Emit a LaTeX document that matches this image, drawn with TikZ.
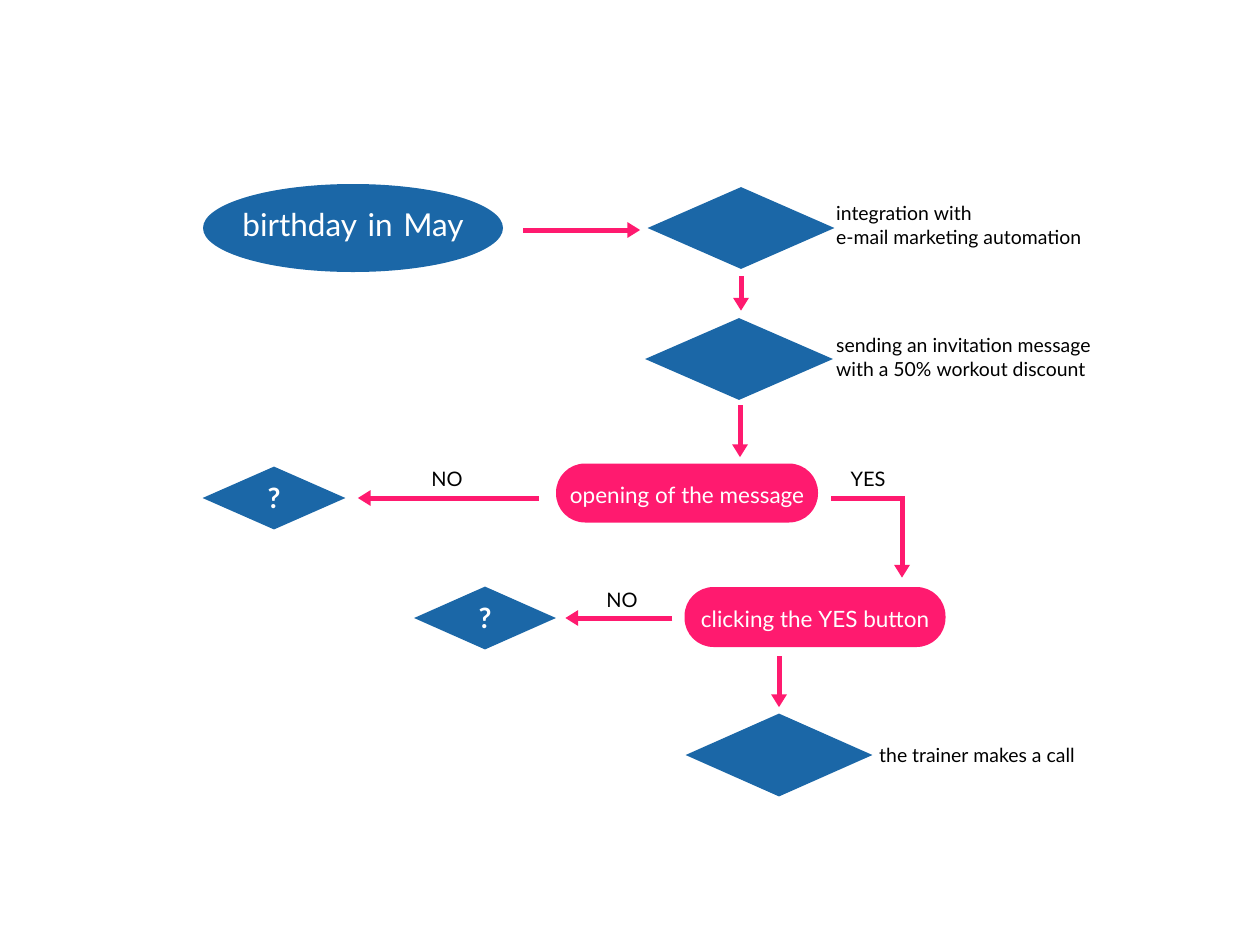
\documentclass[tikz,border=0pt]{standalone}
\usepackage{fontspec}
\setmainfont{Lato}
\usetikzlibrary{shapes.geometric,arrows.meta}
\definecolor{fblue}{HTML}{1B67A7}
\definecolor{fpink}{HTML}{FF1A6F}
\begin{document}
\begin{tikzpicture}[x=1pt,y=-1pt,
  dia/.style={diamond,fill=fblue,inner sep=0pt,text=white,font=\fontsize{28}{32}\selectfont\bfseries},
  proc/.style={rounded corners=29pt,fill=fpink,text=white,inner sep=0pt,text height=22pt,text depth=2pt,font=\fontsize{22.5}{26}\selectfont},
  conn/.style={fpink,line width=5pt,-{Triangle[length=13pt,width=15pt]}},
  note/.style={anchor=west,align=left,font=\fontsize{19.4}{24}\selectfont,inner sep=0pt},
  lbl/.style={font=\fontsize{20}{24}\selectfont,inner sep=0pt}]
\useasboundingbox (0,0) rectangle (1250,938);
\node[ellipse,fill=fblue,text=white,minimum width=300pt,minimum height=88pt,inner sep=0pt,text width=200pt,align=center,font=\fontsize{31.5}{36}\selectfont] (start) at (353,228) {\makebox[0pt]{birthday in May}};
\node[dia,minimum width=187pt,minimum height=82pt] (d1) at (741,228) {};
\node[note] (t1) at (836,227) {integration with\\e-mail marketing automation};
\node[dia,minimum width=188pt,minimum height=82pt] (d2) at (739,359) {};
\node[note] (t2) at (836,357) {sending an invitation message\\with a 50\% workout discount};
\node[proc,minimum width=262pt,minimum height=59pt] (p1) at (687,493) {opening of the message};
\node[dia,minimum width=143pt,minimum height=63pt] (q1) at (274,498) {?};
\node[proc,minimum width=261pt,minimum height=60pt] (p2) at (815,617) {clicking the YES button};
\node[dia,minimum width=142pt,minimum height=63pt] (q2) at (485,618) {?};
\node[dia,minimum width=187pt,minimum height=83pt] (d3) at (779,755) {};
\node[note] (t3) at (879,755) {the trainer makes a call};
\coordinate (c1) at (902,498);
\draw[conn,shorten <=20pt,shorten >=7pt] (start.east |- 0,230) -- (d1.west |- 0,230);
\draw[conn,shorten <=7pt,shorten >=7pt] (d1.south) -- (d1.south |- d2.north);
\draw[conn,shorten <=5pt,shorten >=6pt] (d2.south -| 740,0) -- (p1.north -| 740,0);
\draw[conn,shorten <=17pt,shorten >=12pt] (p1.west |- 0,498) -- (q1.east |- 0,498);
\node[lbl] (n1) at (447,479) {NO};
\draw[conn,shorten <=13pt,shorten >=9pt] (p1.east |- 0,498) -- (c1) -- (c1 |- p2.north);
\node[lbl] (y1) at (868,479) {YES};
\draw[conn,shorten <=12pt,shorten >=9pt] (p2.west |- 0,618) -- (q2.east |- 0,618);
\node[lbl] (n2) at (622,600) {NO};
\draw[conn,shorten <=9pt,shorten >=6pt] (p2.south -| d3.north) -- (d3.north);
\end{tikzpicture}
\end{document}
